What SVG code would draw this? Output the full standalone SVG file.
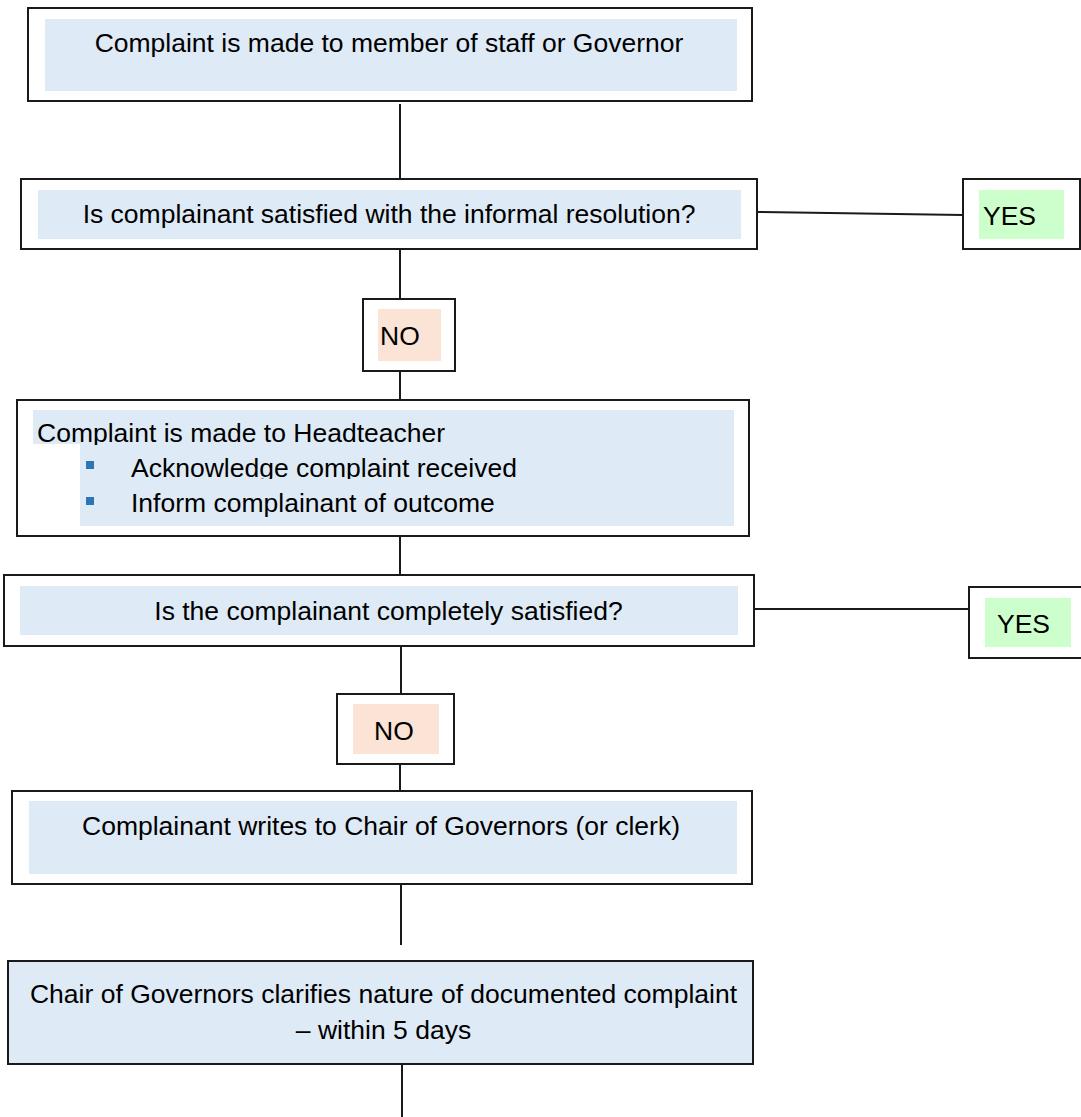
<svg xmlns="http://www.w3.org/2000/svg" width="1081" height="1117" viewBox="0 0 1081 1117">
<style>
.box{fill:#ffffff;stroke:#1a1a1a;stroke-width:2}
.blue{fill:#DEEAF6}
.green{fill:#CCFFCC}
.peach{fill:#FBE4D5}
.t{font-family:"Liberation Sans",Arial,sans-serif;font-size:26.5px;fill:#000}
.c{text-anchor:middle}
.conn{stroke:#1a1a1a;stroke-width:2;fill:none}
.bullet{fill:#2E75B6}
</style>
<defs>
<clipPath id="clipHead"><rect x="0" y="400" width="760" height="45"/></clipPath>
<clipPath id="clipAck"><rect x="0" y="445" width="760" height="34"/></clipPath>
</defs>
<rect width="1081" height="1117" fill="#ffffff"/>
<g id="connectors">
<line class="conn" x1="400" y1="104" x2="400" y2="181"/>
<line class="conn" x1="400" y1="249" x2="400" y2="299"/>
<line class="conn" x1="400" y1="371" x2="400" y2="400"/>
<line class="conn" x1="400" y1="536" x2="400" y2="577"/>
<line class="conn" x1="401" y1="646" x2="401" y2="697"/>
<line class="conn" x1="400" y1="758" x2="400" y2="793"/>
<line class="conn" x1="401" y1="874" x2="401" y2="945"/>
<line class="conn" x1="402" y1="1064" x2="402" y2="1117"/>
<line class="conn" x1="757" y1="212" x2="963" y2="215"/>
<line class="conn" x1="754" y1="609" x2="969" y2="609"/>
</g>
<g id="node1">
<rect class="box" x="28" y="8" width="724" height="93"/>
<rect class="blue" x="45" y="19" width="692" height="72"/>
<text class="t c" x="389" y="52">Complaint is made to member of staff or Governor</text>
</g>
<g id="node2">
<rect class="box" x="21" y="179" width="736" height="70"/>
<rect class="blue" x="38" y="190" width="703" height="49"/>
<text class="t c" x="389" y="223">Is complainant satisfied with the informal resolution?</text>
</g>
<g id="yes1">
<rect class="box" x="963" y="179" width="117" height="70"/>
<rect class="green" x="979" y="190" width="85" height="49"/>
<text class="t" x="983" y="225">YES</text>
</g>
<g id="no1">
<rect class="box" x="363" y="299" width="92" height="72"/>
<rect class="peach" x="378" y="309" width="63" height="52"/>
<text class="t" x="380" y="345">NO</text>
</g>
<g id="node3">
<rect class="box" x="17" y="400" width="732" height="136"/>
<path class="blue" d="M33 410 H734 V526 H80 V444 H33 Z"/>
<text class="t" x="37" y="442" clip-path="url(#clipHead)">Complaint is made to Headteacher</text>
<rect class="bullet" x="86" y="461" width="8" height="8"/>
<text class="t" x="131" y="477" clip-path="url(#clipAck)">Acknowledge complaint received</text>
<rect class="bullet" x="86" y="497" width="8" height="8"/>
<text class="t" x="131" y="512">Inform complainant of outcome</text>
</g>
<g id="node4">
<rect class="box" x="4" y="575" width="750" height="71"/>
<rect class="blue" x="20" y="586" width="718" height="49"/>
<text class="t c" x="388.5" y="620">Is the complainant completely satisfied?</text>
</g>
<g id="yes2">
<rect class="box" x="969" y="587" width="115" height="71"/>
<rect class="green" x="985" y="598" width="86" height="49"/>
<text class="t" x="997" y="633">YES</text>
</g>
<g id="no2">
<rect class="box" x="337" y="694" width="117" height="70"/>
<rect class="peach" x="353" y="704" width="86" height="50"/>
<text class="t" x="374" y="740">NO</text>
</g>
<g id="node5">
<rect class="box" x="12" y="791" width="740" height="93"/>
<rect class="blue" x="29" y="801" width="708" height="73"/>
<text class="t c" x="381" y="835">Complainant writes to Chair of Governors (or clerk)</text>
</g>
<g id="node6">
<rect class="box blue" x="8" y="961" width="745" height="103" style="fill:#DEEAF6"/>
<text class="t c" x="383.5" y="1003">Chair of Governors clarifies nature of documented complaint</text>
<text class="t c" x="383.5" y="1039">– within 5 days</text>
</g>
</svg>
